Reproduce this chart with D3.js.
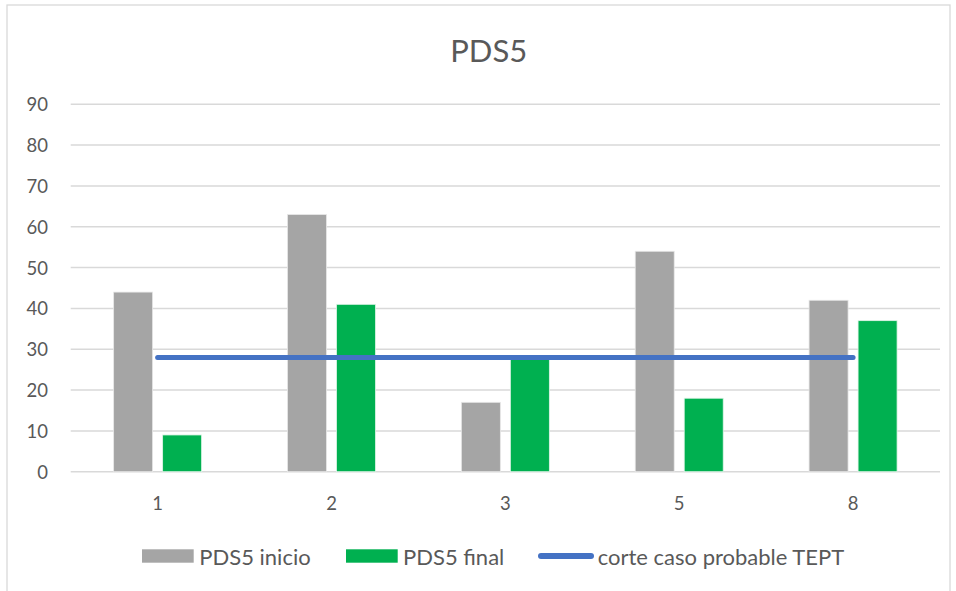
<!DOCTYPE html>
<html><head><meta charset="utf-8">
<script src="https://cdn.jsdelivr.net/npm/d3@7"></script>
<style>body{margin:0;background:#fff;font-family:Lato,"Open Sans",sans-serif;}</style>
</head><body><svg id="c" width="956" height="591"></svg>
<script>
const categories = ["1","2","3","5","8"];
const inicio = [44,63,17,54,42];
const final = [9,41,28,18,37];
const corte = [28,28,28,28,28];
const yTicks = [0,10,20,30,40,50,60,70,80,90];
const seriesNames = ["PDS5 inicio","PDS5 final","corte caso probable TEPT"];
const colors = ["#A5A5A5","#00B050","#4472C4"];

const svg = d3.select("#c");
const m={left:70.7,right:940,top:104.3,bottom:471.7};
svg.append("rect").attr("x",7).attr("y",5).attr("width",943).attr("height",600)
  .attr("fill","#fff").attr("stroke","#D9D9D9").attr("stroke-width",1.3);

const x = d3.scaleBand().domain(categories).range([m.left,m.right]);
const y = d3.scaleLinear().domain([0,90]).range([m.bottom,m.top]);

svg.append("g").selectAll("line").data(yTicks).join("line")
  .attr("x1",m.left).attr("x2",m.right).attr("y1",d=>y(d)).attr("y2",d=>y(d))
  .attr("stroke","#D9D9D9").attr("stroke-width",1.5);

const yAxis = d3.axisLeft(y).tickValues(yTicks).tickSize(0).tickPadding(0);
const ga = svg.append("g").attr("transform",`translate(48,0)`).call(yAxis);
ga.select(".domain").remove();
ga.selectAll("text").attr("font-size",18.5).attr("fill","#595959").attr("font-family","Lato,'Open Sans',sans-serif").attr("dy","0.35em");

const xAxis = d3.axisBottom(x).tickSize(0).tickPadding(0);
const gx = svg.append("g").attr("transform",`translate(0,${m.bottom+31.5})`).call(xAxis);
gx.select(".domain").remove();
gx.selectAll("text").attr("font-size",18.5).attr("fill","#595959").attr("font-family","Lato,'Open Sans',sans-serif").attr("dy","0.35em");

const bw = 39, off = 24.5;
const cx = d=>x(d)+x.bandwidth()/2;
svg.append("g").selectAll("rect").data(categories).join("rect")
  .attr("x",(d)=>cx(d)-off-bw/2).attr("width",bw)
  .attr("y",(d,i)=>y(inicio[i])).attr("height",(d,i)=>y(0)-y(inicio[i]))
  .attr("fill",colors[0]).attr("stroke","#E8E8E8").attr("stroke-width",0.8);
svg.append("g").selectAll("rect").data(categories).join("rect")
  .attr("x",(d)=>cx(d)+off-bw/2).attr("width",bw)
  .attr("y",(d,i)=>y(final[i])).attr("height",(d,i)=>y(0)-y(final[i]))
  .attr("fill",colors[1]).attr("stroke","#E0F5E8").attr("stroke-width",0.8);

const line = d3.line().x((d,i)=>cx(categories[i])).y(d=>y(d));
svg.append("path").datum(corte).attr("d",line).attr("fill","none")
  .attr("stroke",colors[2]).attr("stroke-width",5).attr("stroke-linecap","round");

svg.append("text").attr("x",488.7).attr("y",50).attr("text-anchor","middle").attr("dominant-baseline","central")
  .attr("font-size",31).attr("fill","#595959").text("PDS5");

const lg = svg.append("g").attr("font-size",22).attr("fill","#595959");
lg.append("rect").attr("x",142).attr("y",549.3).attr("width",51.7).attr("height",13.4).attr("fill",colors[0]);
lg.append("text").attr("x",199.3).attr("y",556).attr("dominant-baseline","central").text(seriesNames[0]);
lg.append("rect").attr("x",346).attr("y",549.3).attr("width",51.7).attr("height",13.4).attr("fill",colors[1]);
lg.append("text").attr("x",403).attr("y",556).attr("dominant-baseline","central").text(seriesNames[1]);
lg.append("line").attr("x1",541).attr("x2",591).attr("y1",556).attr("y2",556).attr("stroke",colors[2]).attr("stroke-width",6).attr("stroke-linecap","round");
lg.append("text").attr("x",597.7).attr("y",556).attr("dominant-baseline","central").text(seriesNames[2]);
</script></body></html>
